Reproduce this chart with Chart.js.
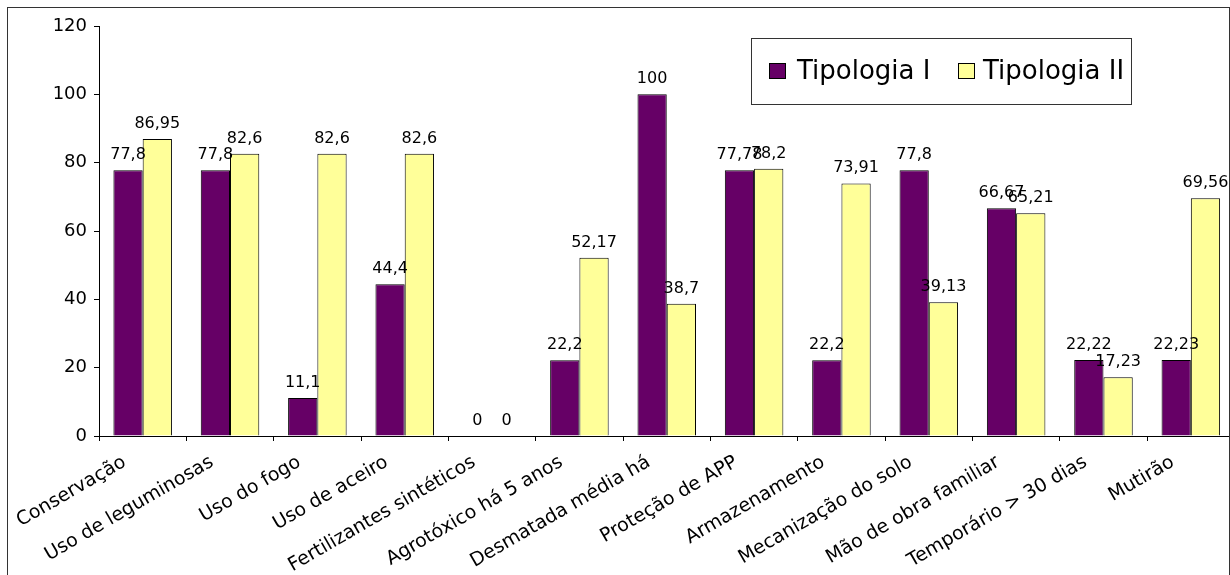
<!DOCTYPE html>
<html>
<head>
<meta charset="utf-8">
<script src="https://cdn.jsdelivr.net/npm/chart.js@4.4.1/dist/chart.umd.min.js"></script>
<style>
  html, body { margin: 0; padding: 0; background: #fff; overflow: hidden; width: 1230px; height: 575px; }
  #wrap { position: relative; width: 1230px; height: 575px; overflow: hidden; }
  #c { position: absolute; left: 0; top: 0; }
  #frame { position: absolute; left: 7px; top: 7px; width: 1221px; height: 620px; border: 1px solid #333; pointer-events: none; }
</style>
</head>
<body>
<div id="wrap">
  <canvas id="c" width="1245" height="575"></canvas>
  <div id="frame"></div>
</div>
<script>
const categories = [
  "Conservação", "Uso de leguminosas", "Uso do fogo", "Uso de aceiro",
  "Fertilizantes sintéticos", "Agrotóxico há 5 anos", "Desmatada média há",
  "Proteção de APP", "Armazenamento", "Mecanização do solo",
  "Mão de obra familiar", "Temporário > 30 dias", "Mutirão"
];
const seriesNames = ["Tipologia I", "Tipologia II"];
const tipologiaI  = [77.8, 77.8, 11.1, 44.4, 0, 22.2, 100, 77.78, 22.2, 77.8, 66.67, 22.22, 22.23];
const tipologiaII = [86.95, 82.6, 82.6, 82.6, 0, 52.17, 38.7, 78.2, 73.91, 39.13, 65.21, 17.23, 69.56];
const yTicks = [0, 20, 40, 60, 80, 100, 120];

const FONT = "'DejaVu Sans', sans-serif";

const valueLabels = {
  id: 'valueLabels',
  afterDatasetsDraw(chart) {
    const ctx = chart.ctx;
    ctx.save();
    ctx.font = "16px " + FONT;
    ctx.fillStyle = "#000";
    ctx.textAlign = "center";
    ctx.textBaseline = "alphabetic";
    chart.data.datasets.forEach((ds, di) => {
      const meta = chart.getDatasetMeta(di);
      meta.data.forEach((el, i) => {
        const v = ds.data[i];
        ctx.fillText(String(v).replace('.', ','), el.x, el.y - 11);
      });
    });
    ctx.restore();
  }
};

const boxLegend = {
  id: 'boxLegend',
  afterDraw(chart) {
    const ctx = chart.ctx;
    ctx.save();
    ctx.lineWidth = 1;
    ctx.strokeStyle = "#333";
    ctx.fillStyle = "#fff";
    ctx.fillRect(751.5, 38.5, 380, 66);
    ctx.strokeRect(751.5, 38.5, 380, 66);
    const items = [{sx: 769, tx: 797}, {sx: 958, tx: 983}];
    ctx.font = "26px " + FONT;
    ctx.textBaseline = "middle";
    ctx.textAlign = "left";
    chart.data.datasets.forEach((ds, i) => {
      const it = items[i];
      ctx.fillStyle = ds.backgroundColor;
      ctx.fillRect(it.sx + 0.5, 63.5, 16, 15);
      ctx.strokeStyle = "#000";
      ctx.strokeRect(it.sx + 0.5, 63.5, 16, 15);
      ctx.fillStyle = "#000";
      ctx.fillText(ds.label, it.tx, 72);
    });
    ctx.restore();
  }
};

new Chart(document.getElementById('c'), {
  type: 'bar',
  data: {
    labels: categories,
    datasets: [
      { label: seriesNames[0], data: tipologiaI, backgroundColor: '#660066', borderColor: '#000', borderWidth: 1,
        categoryPercentage: 0.67, barPercentage: 1.0 },
      { label: seriesNames[1], data: tipologiaII, backgroundColor: '#FFFF99', borderColor: '#000', borderWidth: 1,
        categoryPercentage: 0.67, barPercentage: 1.0 }
    ]
  },
  options: {
    responsive: false,
    animation: false,
    devicePixelRatio: 1,
    layout: { padding: { left: 0, right: 10.5, top: 26, bottom: 0 } },
    plugins: { legend: { display: false }, tooltip: { enabled: false } },
    scales: {
      x: {
        offset: true,
        grid: { offset: true, drawOnChartArea: false, drawTicks: true, tickLength: 5, color: '#000' },
        border: { display: true, color: '#000', width: 1 },
        ticks: { color: '#000', font: { family: FONT, size: 19 }, minRotation: 30, maxRotation: 30, autoSkip: false, padding: 10, labelOffset: -18 },
        afterFit(scale) { scale.height = 139; }
      },
      y: {
        min: 0, max: 120,
        afterBuildTicks(scale) { scale.ticks = yTicks.map(v => ({ value: v })); },
        grid: { drawOnChartArea: false, drawTicks: true, tickLength: 5, color: '#000' },
        border: { display: true, color: '#000', width: 1 },
        ticks: { color: '#000', font: { family: FONT, size: 18 }, padding: 7 },
        afterFit(scale) { scale.width = 99; }
      }
    }
  },
  plugins: [valueLabels, boxLegend]
});
</script>
</body>
</html>
